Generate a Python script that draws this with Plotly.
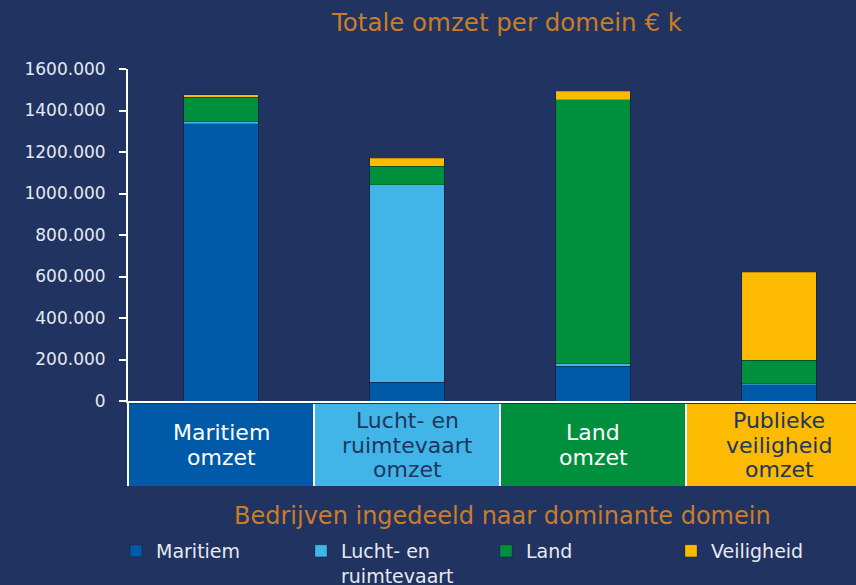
import plotly.graph_objects as go

# ---------------- data ----------------
categories = ["Maritiem omzet", "Lucht- en ruimtevaart omzet", "Land omzet", "Publieke veiligheid omzet"]
category_lines = [["Maritiem", "omzet"],
                  ["Lucht- en", "ruimtevaart", "omzet"],
                  ["Land", "omzet"],
                  ["Publieke", "veiligheid", "omzet"]]
series_names = ["Maritiem", "Lucht- en<br>ruimtevaart", "Land", "Veiligheid"]
maritiem = [1335, 90, 167, 79]
lucht = [12, 952, 13, 3]
land = [116, 89, 1272, 114]
veiligheid = [13, 39, 40, 424]
tick_values = [0, 200, 400, 600, 800, 1000, 1200, 1400, 1600]
tick_labels = ["0", "200.000", "400.000", "600.000", "800.000", "1000.000",
               "1200.000", "1400.000", "1600.000"]
title_text = "Totale omzet per domein € k"
x_title_text = "Bedrijven ingedeeld naar dominante domein"

# ---------------- style ----------------
BG = "#213360"
COLORS = ["#005aa7", "#41b5e7", "#008f3d", "#fcba00"]
BOX_TEXT = ["#ffffff", "#22355f", "#ffffff", "#22355f"]
ORANGE = "#c97d2a"
TICK_COL = "#e6e9f0"
FONT = "DejaVu Sans"

W, H = 856, 585
L, T, B = 128, 69, 184
PH = H - T - B            # plot height in px
PW = W - L                # plot width in px
CAT_PX = 186              # px per category
Y0_PX = T + PH            # pixel row of the baseline


def py(px):
    """pixel row -> paper y"""
    return (Y0_PX - px) / PH


def px_x(px):
    """pixel column -> paper x"""
    return (px - L) / PW


fig = go.Figure()
for name, vals, col in zip(series_names, [maritiem, lucht, land, veiligheid], COLORS):
    fig.add_trace(go.Bar(
        x=categories, y=vals, name=name,
        marker=dict(color=col, line=dict(color="rgba(0,0,0,0.22)", width=1)),
        width=0.4,
    ))

shapes = []
annotations = []
box_top, box_bot = py(404), py(486)
for i, lines in enumerate(category_lines):
    shapes.append(dict(type="rect", xref="x", yref="paper", x0=i - 0.5, x1=i + 0.5,
                       y0=box_bot, y1=box_top, fillcolor=COLORS[i], line=dict(width=0),
                       layer="above"))
    n = len(lines)
    for k, ln in enumerate(lines):
        ypix = 445 + (k - (n - 1) / 2) * 24.5
        annotations.append(dict(text=ln, xref="x", yref="paper", x=i, y=py(ypix),
                                xanchor="center", yanchor="middle", showarrow=False,
                                font=dict(family=FONT, size=22, color=BOX_TEXT[i])))
for i in range(len(categories) - 1):
    shapes.append(dict(type="line", xref="x", yref="paper", x0=i + 0.5, x1=i + 0.5,
                       y0=box_bot, y1=box_top, line=dict(color="white", width=2),
                       layer="above"))
# y-axis line continuing down the category boxes
shapes.append(dict(type="line", xref="paper", yref="paper", x0=0, x1=0,
                   y0=0, y1=box_bot, line=dict(color="white", width=2), layer="above"))

annotations.append(dict(text=x_title_text, xref="paper", yref="paper",
                        x=px_x(503), y=py(516), xanchor="center", yanchor="middle",
                        showarrow=False, font=dict(family=FONT, size=24, color=ORANGE)))

fig.update_layout(
    width=W, height=H,
    margin=dict(l=L, r=0, t=T, b=B, pad=0, autoexpand=False),
    paper_bgcolor=BG, plot_bgcolor=BG,
    barmode="stack",
    title=dict(text=title_text, xref="paper", x=px_x(507), xanchor="center",
               yref="container", y=1 - 22 / H, yanchor="middle",
               font=dict(family=FONT, size=24.5, color=ORANGE)),
    xaxis=dict(range=[-0.5, -0.5 + PW / CAT_PX], showticklabels=False, ticks="",
               showgrid=False, zeroline=False, showline=True, linecolor="white",
               linewidth=2, fixedrange=True),
    yaxis=dict(range=[0, 1600], tickvals=tick_values, ticktext=tick_labels,
               showgrid=False, zeroline=False, showline=True, linecolor="white",
               linewidth=2, ticks="outside", ticklen=7, tickwidth=2, tickcolor="white",
               ticklabelstandoff=10,
               tickfont=dict(family=FONT, size=17, color=TICK_COL), fixedrange=True),
    legend=dict(orientation="h", x=px_x(116), xanchor="left", y=py(532), yanchor="top",
                traceorder="normal", valign="top", entrywidth=140,
                entrywidthmode="pixels", bgcolor="rgba(0,0,0,0)",
                font=dict(family=FONT, size=19, color=TICK_COL)),
    shapes=shapes,
    annotations=annotations,
    showlegend=True,
)

fig.write_html("out.html",
               config={"displayModeBar": False},
               post_script="document.body.style.margin='0';"
                           "document.body.style.overflow='hidden';")
